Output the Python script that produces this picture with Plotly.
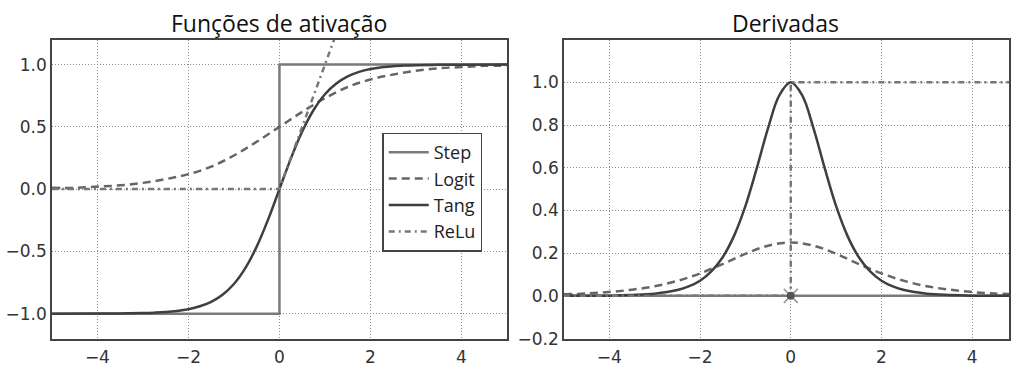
import plotly.graph_objects as go

# ---- data ----
step_x = [-5, 0, 0, 5]
step_y = [-1, -1, 1, 1]

logit_x = [-5, -4.5, -4, -3.5, -3, -2.5, -2, -1.5, -1, -0.5, 0, 0.5, 1, 1.5, 2, 2.5, 3, 3.5, 4, 4.5, 5]
logit_y = [0.01, 0.01, 0.02, 0.03, 0.05, 0.08, 0.12, 0.18, 0.27, 0.38, 0.5, 0.62, 0.73, 0.82, 0.88, 0.92, 0.95, 0.97, 0.98, 0.99, 0.99]

tang_x = [-5, -4, -3.5, -3, -2.75, -2.5, -2.25, -2, -1.75, -1.5, -1.25, -1, -0.75, -0.5, -0.25, 0,
          0.25, 0.5, 0.75, 1, 1.25, 1.5, 1.75, 2, 2.25, 2.5, 2.75, 3, 3.5, 4, 5]
tang_y = [-1.0, -0.999, -0.998, -0.995, -0.992, -0.987, -0.978, -0.964, -0.941, -0.905, -0.848, -0.762, -0.635, -0.462, -0.245, 0.0,
          0.245, 0.462, 0.635, 0.762, 0.848, 0.905, 0.941, 0.964, 0.978, 0.987, 0.992, 0.995, 0.998, 0.999, 1.0]

relu_x = [-5, 0, 5]
relu_y = [0, 0, 5]

dstep_x = [-5, 5]
dstep_y = [0, 0]

dlogit_x = [-5, -4.5, -4, -3.5, -3, -2.5, -2, -1.5, -1, -0.5, 0, 0.5, 1, 1.5, 2, 2.5, 3, 3.5, 4, 4.5, 5]
dlogit_y = [0.007, 0.011, 0.018, 0.029, 0.045, 0.07, 0.105, 0.149, 0.197, 0.235, 0.25, 0.235, 0.197, 0.149, 0.105, 0.07, 0.045, 0.029, 0.018, 0.011, 0.007]

dtang_x = [-5, -4, -3.5, -3, -2.5, -2.25, -2, -1.75, -1.5, -1.25, -1, -0.75, -0.5, -0.25, 0,
           0.25, 0.5, 0.75, 1, 1.25, 1.5, 1.75, 2, 2.25, 2.5, 3, 3.5, 4, 5]
dtang_y = [0.0, 0.001, 0.004, 0.01, 0.027, 0.044, 0.071, 0.115, 0.181, 0.281, 0.42, 0.597, 0.786, 0.94, 1.0,
           0.94, 0.786, 0.597, 0.42, 0.281, 0.181, 0.115, 0.071, 0.044, 0.027, 0.01, 0.004, 0.001, 0.0]

drelu_x = [-5, 0, 0, 5]
drelu_y = [0, 0, 1, 1]

point_x = [0]
point_y = [0]

x_ticks = [-4, -2, 0, 2, 4]
y1_ticks = [-1.0, -0.5, 0.0, 0.5, 1.0]
y2_ticks = [-0.2, 0.0, 0.2, 0.4, 0.6, 0.8, 1.0]

C_STEP = "#7a7a7a"
C_LOGIT = "#666666"
C_TANG = "#3f3f3f"
C_RELU = "#777777"

fig = go.Figure()

# left panel
fig.add_trace(go.Scatter(x=step_x, y=step_y, mode="lines", name="Step",
                         line=dict(color=C_STEP, width=2.5), xaxis="x", yaxis="y"))
fig.add_trace(go.Scatter(x=logit_x, y=logit_y, mode="lines", name="Logit",
                         line=dict(color=C_LOGIT, width=2.5, dash="8px,5px", shape="spline"),
                         xaxis="x", yaxis="y"))
fig.add_trace(go.Scatter(x=tang_x, y=tang_y, mode="lines", name="Tang",
                         line=dict(color=C_TANG, width=2.5, shape="spline"), xaxis="x", yaxis="y"))
fig.add_trace(go.Scatter(x=relu_x, y=relu_y, mode="lines", name="ReLu",
                         line=dict(color=C_RELU, width=2.5, dash="6px,4px,2px,4px"), xaxis="x", yaxis="y"))

# right panel
fig.add_trace(go.Scatter(x=dstep_x, y=dstep_y, mode="lines", showlegend=False,
                         line=dict(color=C_STEP, width=2.5), xaxis="x2", yaxis="y2"))
fig.add_trace(go.Scatter(x=dlogit_x, y=dlogit_y, mode="lines", showlegend=False,
                         line=dict(color=C_LOGIT, width=2.5, dash="8px,5px", shape="spline"),
                         xaxis="x2", yaxis="y2"))
fig.add_trace(go.Scatter(x=dtang_x, y=dtang_y, mode="lines", showlegend=False,
                         line=dict(color=C_TANG, width=2.5, shape="spline"), xaxis="x2", yaxis="y2"))
fig.add_trace(go.Scatter(x=drelu_x, y=drelu_y, mode="lines", showlegend=False,
                         line=dict(color=C_RELU, width=2.5, dash="6px,4px,2px,4px"), xaxis="x2", yaxis="y2"))
fig.add_trace(go.Scatter(x=point_x, y=point_y, mode="markers", showlegend=False,
                         marker=dict(symbol="x-thin-open", size=14, color="#999999",
                                     line=dict(color="#999999", width=1.5)),
                         xaxis="x2", yaxis="y2"))
fig.add_trace(go.Scatter(x=point_x, y=point_y, mode="markers", showlegend=False,
                         marker=dict(symbol="circle", size=8, color="#555555"),
                         xaxis="x2", yaxis="y2"))

axis_common = dict(showgrid=True, gridcolor="#8a8a8a", griddash="1px,2px", gridwidth=1,
                   showline=True, mirror=True, linecolor="#444444", linewidth=1.5,
                   zeroline=False, ticks="",
                   tickfont=dict(family="DejaVu Sans", size=17, color="#333333"))

fig.update_layout(
    width=1011, height=367,
    margin=dict(l=0, r=0, t=0, b=0),
    paper_bgcolor="white", plot_bgcolor="white",
    xaxis=dict(domain=[52/1011, 508/1011], range=[-5, 5], tickvals=x_ticks,
               anchor="y", ticklabelstandoff=2, **axis_common),
    yaxis=dict(domain=[1-350/367, 1-41/367], range=[-1.2, 1.2], tickvals=y1_ticks,
               tickformat=".1f", anchor="x", **axis_common),
    xaxis2=dict(domain=[565/1011, 1.0], range=[-5, 4.81], tickvals=x_ticks,
                anchor="y2", ticklabelstandoff=2, **axis_common),
    yaxis2=dict(domain=[1-350/367, 1-41/367], range=[-0.2, 1.2], tickvals=y2_ticks,
                tickformat=".1f", anchor="x2", **axis_common),
    legend=dict(x=383/1011, y=1-137/367, xanchor="left", yanchor="top",
                bgcolor="white", bordercolor="#444444", borderwidth=1.5,
                font=dict(family="Open Sans", size=18, color="#222222"),
                itemwidth=40, entrywidth=122),
    annotations=[
        dict(text="Funções de ativação", x=280/1011, y=1-24/367, xref="paper", yref="paper",
             showarrow=False, xanchor="center", yanchor="middle",
             font=dict(family="Open Sans", size=23, color="#111111")),
        dict(text="Derivadas", x=787/1011, y=1-24/367, xref="paper", yref="paper",
             showarrow=False, xanchor="center", yanchor="middle",
             font=dict(family="Open Sans", size=23, color="#111111")),
    ],
)

fig.write_html("out.html")
